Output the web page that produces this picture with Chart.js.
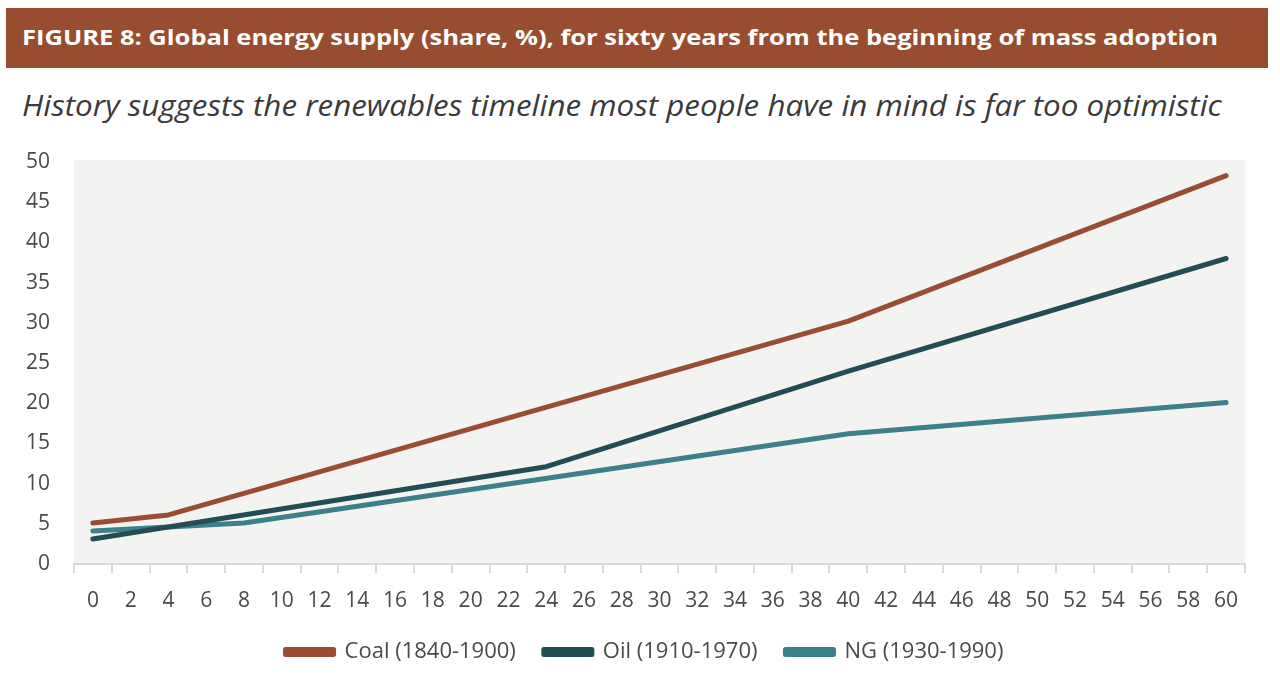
<!DOCTYPE html>
<html>
<head>
<meta charset="utf-8">
<script src="https://cdn.jsdelivr.net/npm/chart.js@4"></script>
<style>
  body { margin: 0; background: #fff; width: 1280px; height: 678px; overflow: hidden; font-family: "Open Sans", "Noto Sans", sans-serif; }
  #bar { position: absolute; left: 6px; top: 8px; width: 1262px; height: 60px; background: #984d31; }
  #title { position: absolute; left: 22px; top: 21px; color: #fff; font-weight: bold; font-size: 22px; white-space: nowrap; transform-origin: left top; }
  #sub { position: absolute; left: 22px; top: 84px; color: #3a3a3a; font-style: italic; font-size: 30px; white-space: nowrap; transform-origin: left top; }
  #wrap { position: absolute; left: 0; top: 140px; width: 1280px; height: 538px; }
</style>
</head>
<body>
<div id="bar"></div>
<div id="title">FIGURE 8: Global energy supply (share, %), for sixty years from the beginning of mass adoption</div>
<div id="sub">History suggests the renewables timeline most people have in mind is far too optimistic</div>
<div id="wrap"><canvas id="chart"></canvas></div>
<script>
// years from start of mass adoption (x axis)
const years = [];
for (let y = 0; y <= 60; y += 2) years.push(String(y));

// values read at the kink points, null between them (lines span the gaps)
const coal = { 0: 5.1, 4: 6.1, 40: 30.2, 60: 48.3 };
const oil = { 0: 3.1, 24: 12.1, 40: 24, 60: 38 };
const ng = { 0: 4.1, 8: 5.1, 40: 16.2, 60: 20.1 };

const seriesNames = ['Coal (1840-1900)', 'Oil (1910-1970)', 'NG (1930-1990)'];
const seriesColors = ['#9a4d32', '#234c55', '#3d7f8b'];

function toArray(pts) {
    return years.map(y => (pts[y] !== undefined ? pts[y] : null));
}

// fit the heading texts to the width seen in the picture
function fit(id, w) {
    const el = document.getElementById(id);
    el.style.transform = 'scaleX(' + (w / el.offsetWidth) + ')';
}
fit('title', 1196);
fit('sub', 1200);

const plotBg = {
    id: 'plotBg',
    afterLayout(chart) {
        // legend sits a bit left of the plot centre in the original
        chart.legend.left -= 15;
        chart.legend.right -= 15;
    },
    beforeDraw(chart) {
        const a = chart.chartArea;
        const ctx = chart.ctx;
        ctx.save();
        ctx.fillStyle = '#f3f3f2';
        ctx.fillRect(a.left, a.top - 2, a.right - a.left, a.bottom - a.top + 2);
        ctx.restore();
    }
};

const sets = [coal, oil, ng].map((pts, i) => ({
    label: seriesNames[i],
    data: toArray(pts),
    borderColor: seriesColors[i],
    backgroundColor: seriesColors[i],
    borderWidth: 5,
    borderCapStyle: 'round',
    borderJoinStyle: 'round',
    pointRadius: 0,
    tension: 0,
    spanGaps: true
}));

new Chart(document.getElementById('chart'), {
    type: 'line',
    data: { labels: years, datasets: sets },
    plugins: [plotBg],
    options: {
        responsive: true,
        maintainAspectRatio: false,
        animation: false,
        layout: { padding: { left: 0, right: 35, top: 22, bottom: 5 } },
        scales: {
            x: {
                offset: true,
                afterFit: s => { s.height = 49; },
                grid: { offset: true, drawOnChartArea: false, drawTicks: true, tickLength: 9, color: '#d9d9d6', lineWidth: 2 },
                border: { color: '#d9d9d6', width: 2 },
                ticks: { color: '#4a4a4a', font: { family: 'Open Sans', size: 21 }, maxRotation: 0, autoSkip: false, padding: 15 }
            },
            y: {
                min: 0,
                max: 50,
                afterFit: s => { s.width = 74; s.paddingTop = 12; s.paddingBottom = 12; },
                grid: { display: false },
                border: { display: false },
                ticks: { stepSize: 5, color: '#4a4a4a', font: { family: 'Open Sans', size: 21 }, padding: 16 }
            }
        },
        plugins: {
            legend: {
                position: 'bottom',
                fullSize: false,
                labels: { boxWidth: 48, boxHeight: 5, color: '#4a4a4a', font: { family: 'Open Sans', size: 22 }, padding: 28 }
            },
            tooltip: { enabled: false }
        }
    }
});
</script>
</body>
</html>
